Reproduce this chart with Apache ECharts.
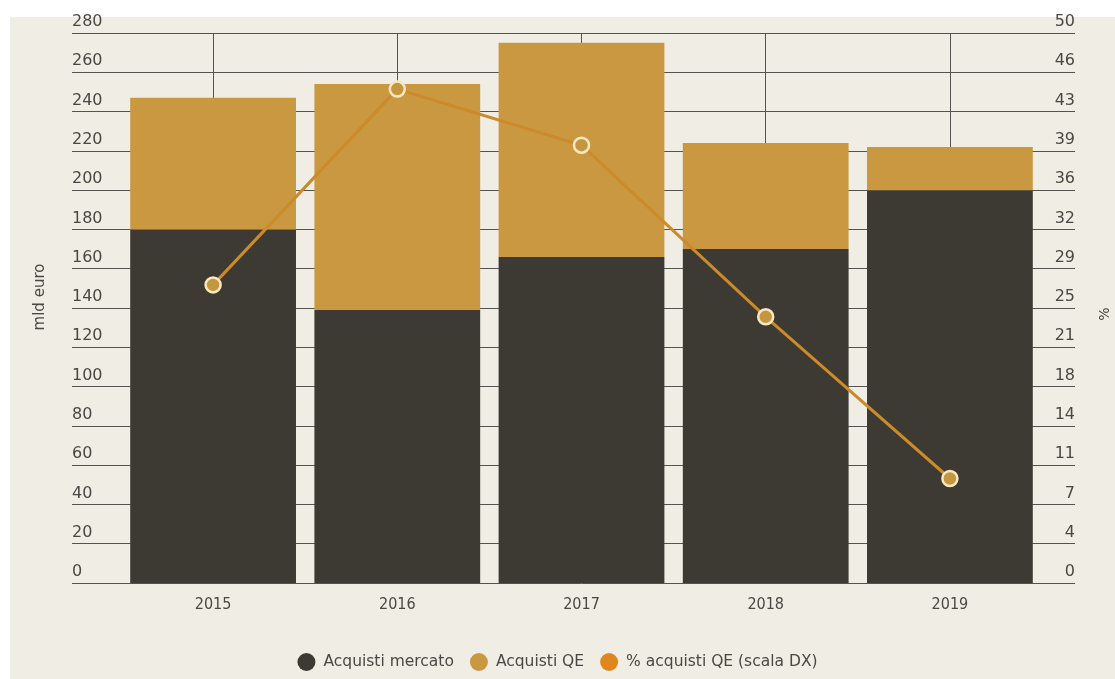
<!DOCTYPE html>
<html>
<head>
<meta charset="utf-8">
<script src="https://cdn.jsdelivr.net/npm/echarts@6/dist/echarts.min.js"></script>
<style>
html,body{margin:0;padding:0;background:#ffffff;}
#c{width:1115px;height:679px;}
</style>
</head>
<body>
<div id="c"></div>
<script>
const categories = ['2015', '2016', '2017', '2018', '2019'];
const acquistiMercato = [180, 139, 166, 170, 200];
const acquistiQE = [67, 115, 109, 54, 22];
const percQE = [27.1, 44.9, 39.8, 24.2, 9.5];
const seriesNames = ['Acquisti mercato', 'Acquisti QE', '% acquisti QE (scala DX)'];

const textColor = '#4a4844';
const gridColor = '#55534f';
const font = '"DejaVu Sans", "Open Sans", sans-serif';
const narrowFont = '"Liberation Sans Narrow", "DejaVu Sans Condensed", sans-serif';

const chart = echarts.init(document.getElementById('c'), null, {renderer: 'canvas'});
chart.setOption({
  backgroundColor: '#ffffff',
  textStyle: {fontFamily: font},
  graphic: [{
    type: 'rect', left: 10, top: 17, z: -10,
    shape: {width: 1105, height: 662},
    style: {fill: '#f0ede4'}
  }],
  grid: {left: 121, right: 73, top: 33, bottom: 96, containLabel: false, outerBoundsMode: 'none'},
  legend: {
    top: 648,
    left: 'center',
    icon: 'circle',
    itemWidth: 18,
    itemHeight: 18,
    itemGap: 16,
    textStyle: {color: textColor, fontSize: 15.5, fontFamily: font, padding: [0, 0, 0, 3]},
    data: [
      {name: seriesNames[0]},
      {name: seriesNames[1]},
      {name: seriesNames[2], itemStyle: {color: '#df861f', borderWidth: 0}}
    ]
  },
  xAxis: {
    type: 'category',
    data: categories,
    axisLine: {show: false},
    axisTick: {show: false},
    axisLabel: {color: textColor, fontSize: 16, fontFamily: narrowFont, margin: 14},
    splitLine: {show: true, alignWithLabel: true, lineStyle: {color: gridColor, width: 1}}
  },
  yAxis: [{
    type: 'value',
    min: 0, max: 280, interval: 20,
    name: 'mld euro',
    nameLocation: 'middle',
    nameGap: 73,
    nameTextStyle: {color: textColor, fontSize: 15, padding: [0, 0, 0, 22]},
    axisLine: {show: false},
    axisTick: {show: true, length: 49, lineStyle: {color: gridColor}},
    axisLabel: {color: textColor, fontSize: 16, align: 'left', margin: 49, verticalAlign: 'bottom', padding: [0, 0, 3, 0]},
    splitLine: {show: true, lineStyle: {color: gridColor, width: 1}}
  }, {
    type: 'value',
    min: 0, max: 50, interval: 50 / 14,
    name: '%',
    nameLocation: 'middle',
    nameGap: 56,
    nameTextStyle: {color: textColor, fontSize: 14, padding: [0, 12, 0, 0]},
    axisLine: {show: false},
    axisTick: {show: true, length: 33, lineStyle: {color: gridColor}},
    axisLabel: {color: textColor, fontSize: 16, align: 'right', margin: 33, verticalAlign: 'bottom', padding: [0, 0, 3, 0],
      formatter: v => String(Math.round(v))},
    splitLine: {show: false}
  }],
  series: [{
    name: seriesNames[0],
    type: 'bar',
    stack: 'tot',
    data: acquistiMercato,
    barCategoryGap: '10%',
    itemStyle: {color: '#3d3a33'}
  }, {
    name: seriesNames[1],
    type: 'bar',
    stack: 'tot',
    data: acquistiQE,
    itemStyle: {color: '#c99841'}
  }, {
    name: seriesNames[2],
    type: 'line',
    yAxisIndex: 1,
    data: percQE,
    z: 5,
    symbol: 'circle',
    symbolSize: 15,
    lineStyle: {color: '#cc8a2a', width: 3},
    itemStyle: {color: '#c4963f', borderColor: '#f7e8c2', borderWidth: 2.5}
  }],
  animation: false
});
</script>
</body>
</html>
